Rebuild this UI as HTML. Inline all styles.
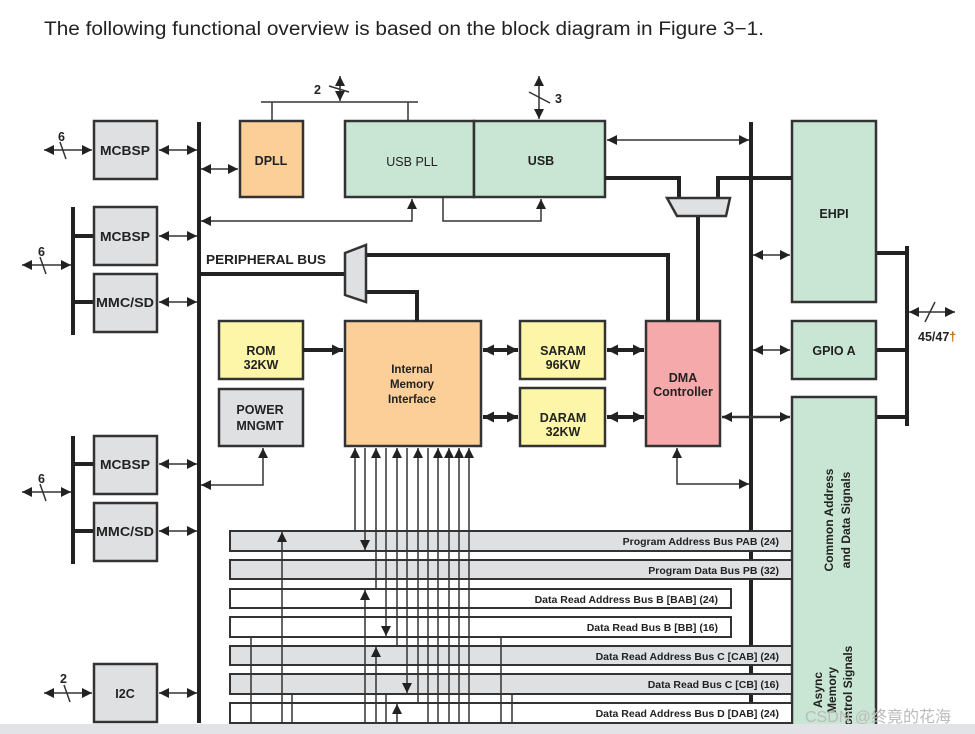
<!DOCTYPE html>
<html><head><meta charset="utf-8"><style>
html,body{margin:0;padding:0;background:#fff;}
svg{display:block;}
text{font-family:"Liberation Sans",Arial,sans-serif;font-weight:bold;fill:#222;}
</style></head><body>
<svg width="975" height="734" viewBox="0 0 975 734" xmlns="http://www.w3.org/2000/svg">
<defs>
<marker id="a" viewBox="0 0 10 10" refX="10" refY="5" markerWidth="10" markerHeight="10" markerUnits="userSpaceOnUse" orient="auto-start-reverse"><path d="M0,0 L10,5 L0,10 z" fill="#222"/></marker>
<marker id="b" viewBox="0 0 10 10" refX="10" refY="5" markerWidth="11" markerHeight="12" markerUnits="userSpaceOnUse" orient="auto-start-reverse"><path d="M0,0 L10,5 L0,10 z" fill="#222"/></marker>
</defs>
<text x="44" y="35" font-size="19" textLength="720" lengthAdjust="spacingAndGlyphs" style="font-weight:normal">The following functional overview is based on the block diagram in Figure 3−1.</text>

<g stroke="#222" fill="none">
<line x1="199" y1="122" x2="199" y2="723" stroke-width="4"/>
<line x1="751" y1="122" x2="751" y2="723" stroke-width="4"/>
<line x1="73" y1="207" x2="73" y2="335" stroke-width="4"/>
<line x1="73" y1="436" x2="73" y2="564" stroke-width="4"/>
<line x1="907" y1="246" x2="907" y2="426" stroke-width="4"/>
<line x1="73" y1="236" x2="94" y2="236" stroke-width="4"/>
<line x1="73" y1="302" x2="94" y2="302" stroke-width="4"/>
<line x1="73" y1="464" x2="94" y2="464" stroke-width="4"/>
<line x1="73" y1="531" x2="94" y2="531" stroke-width="4"/>
<line x1="876" y1="253" x2="907" y2="253" stroke-width="4"/>
<line x1="876" y1="350" x2="907" y2="350" stroke-width="4"/>
<line x1="876" y1="417" x2="907" y2="417" stroke-width="4"/>
</g>

<g stroke="#333" stroke-width="2.5">
<rect x="94" y="121" width="63" height="58" fill="#dfe0e2"/>
<rect x="94" y="207" width="63" height="58" fill="#dfe0e2"/>
<rect x="94" y="274" width="63" height="58" fill="#dfe0e2"/>
<rect x="94" y="436" width="63" height="58" fill="#dfe0e2"/>
<rect x="94" y="503" width="63" height="58" fill="#dfe0e2"/>
<rect x="94" y="664" width="63" height="58" fill="#dfe0e2"/>
<rect x="240" y="121" width="63" height="76" fill="#fccf99"/>
<rect x="345" y="121" width="129" height="76" fill="#c9e6d4"/>
<rect x="474" y="121" width="131" height="76" fill="#c9e6d4"/>
<rect x="792" y="121" width="84" height="181" fill="#c9e6d4"/>
<rect x="792" y="321" width="84" height="58" fill="#c9e6d4"/>
<rect x="792" y="397" width="84" height="345" fill="#c9e6d4"/>
<rect x="219" y="321" width="84" height="58" fill="#fdf6a8"/>
<rect x="219" y="389" width="84" height="57" fill="#dfe0e2"/>
<rect x="345" y="321" width="136" height="125" fill="#fccf99"/>
<rect x="520" y="321" width="85" height="58" fill="#fdf6a8"/>
<rect x="520" y="388" width="85" height="58" fill="#fdf6a8"/>
<rect x="646" y="321" width="74" height="125" fill="#f6a9ab"/>
</g>

<g stroke="#333" stroke-width="2">
<rect x="230" y="531" width="562" height="20" fill="#dfe0e2"/>
<rect x="230" y="560" width="562" height="19" fill="#dfe0e2"/>
<rect x="230" y="589" width="501" height="19" fill="#fff"/>
<rect x="230" y="617" width="501" height="20" fill="#fff"/>
<rect x="230" y="646" width="562" height="19" fill="#dfe0e2"/>
<rect x="230" y="674" width="562" height="20" fill="#dfe0e2"/>
<rect x="230" y="703" width="562" height="20" fill="#fff"/>
</g>

<g stroke="#333" stroke-width="1.5" fill="none">
<line x1="159" y1="150" x2="197" y2="150" marker-start="url(#a)" marker-end="url(#a)"/>
<line x1="159" y1="236" x2="197" y2="236" marker-start="url(#a)" marker-end="url(#a)"/>
<line x1="159" y1="302" x2="197" y2="302" marker-start="url(#a)" marker-end="url(#a)"/>
<line x1="159" y1="464" x2="197" y2="464" marker-start="url(#a)" marker-end="url(#a)"/>
<line x1="159" y1="531" x2="197" y2="531" marker-start="url(#a)" marker-end="url(#a)"/>
<line x1="159" y1="693" x2="197" y2="693" marker-start="url(#a)" marker-end="url(#a)"/>
<line x1="44" y1="150" x2="92" y2="150" marker-start="url(#a)" marker-end="url(#a)"/>
<line x1="22" y1="265" x2="71" y2="265" marker-start="url(#a)" marker-end="url(#a)"/>
<line x1="22" y1="492" x2="71" y2="492" marker-start="url(#a)" marker-end="url(#a)"/>
<line x1="44" y1="693" x2="92" y2="693" marker-start="url(#a)" marker-end="url(#a)"/>
<line x1="60" y1="142" x2="66" y2="159"/><line x1="40" y1="257" x2="46" y2="274"/><line x1="40" y1="484" x2="46" y2="501"/><line x1="64" y1="685" x2="70" y2="702"/>
<line x1="201" y1="169" x2="238" y2="169" marker-start="url(#a)" marker-end="url(#a)"/>
<polyline points="201,221 412,221 412,199" marker-start="url(#a)" marker-end="url(#a)"/>
<polyline points="443,197 443,221 541,221 541,199" marker-end="url(#a)"/>
<polyline points="261,102 418,102"/>
<line x1="272" y1="102" x2="272" y2="121"/><line x1="408" y1="102" x2="408" y2="121"/>
<line x1="340" y1="76" x2="340" y2="101" marker-start="url(#a)" marker-end="url(#a)"/>
<line x1="329" y1="86" x2="349" y2="92"/>
<line x1="539" y1="76" x2="539" y2="119" marker-start="url(#a)" marker-end="url(#a)"/>
<line x1="529" y1="92" x2="550" y2="103"/>
<line x1="607" y1="140" x2="749" y2="140" marker-start="url(#a)" marker-end="url(#a)"/>
<line x1="753" y1="255" x2="790" y2="255" marker-start="url(#a)" marker-end="url(#a)"/>
<line x1="753" y1="350" x2="790" y2="350" marker-start="url(#a)" marker-end="url(#a)"/>
<line x1="722" y1="417" x2="790" y2="417" stroke-width="2.5" marker-start="url(#a)" marker-end="url(#a)"/>
<line x1="909" y1="312" x2="955" y2="312" marker-start="url(#a)" marker-end="url(#a)"/>
<line x1="925" y1="322" x2="935" y2="302"/>
<polyline points="201,485 263,485 263,448" marker-start="url(#a)" marker-end="url(#a)"/>
<polyline points="677,448 677,484 749,484" marker-start="url(#a)" marker-end="url(#a)"/>
<line x1="355" y1="531" x2="355" y2="448" marker-end="url(#a)"/>
<line x1="365" y1="448" x2="365" y2="550" marker-end="url(#a)"/>
<line x1="376" y1="589" x2="376" y2="448" marker-end="url(#a)"/>
<line x1="386" y1="448" x2="386" y2="636" marker-end="url(#a)"/>
<line x1="397" y1="646" x2="397" y2="448" marker-end="url(#a)"/>
<line x1="407" y1="448" x2="407" y2="693" marker-end="url(#a)"/>
<line x1="418" y1="703" x2="418" y2="448" marker-end="url(#a)"/>
<line x1="428" y1="448" x2="428" y2="723"/>
<line x1="438" y1="723" x2="438" y2="448" marker-end="url(#a)"/>
<line x1="449" y1="723" x2="449" y2="448" marker-end="url(#a)"/>
<line x1="459" y1="723" x2="459" y2="448" marker-end="url(#a)"/>
<line x1="469" y1="723" x2="469" y2="448" marker-end="url(#a)"/>
<line x1="282" y1="723" x2="282" y2="532" marker-end="url(#a)"/>
<line x1="365" y1="723" x2="365" y2="590" marker-end="url(#a)"/>
<line x1="376" y1="723" x2="376" y2="647" marker-end="url(#a)"/>
<line x1="397" y1="723" x2="397" y2="704" marker-end="url(#a)"/>
<line x1="386" y1="694" x2="386" y2="723"/>
<line x1="251" y1="637" x2="251" y2="723"/>
<line x1="292" y1="694" x2="292" y2="723"/>
<line x1="501" y1="637" x2="501" y2="723"/>
<line x1="512" y1="694" x2="512" y2="723"/>
</g>

<g stroke="#222" stroke-width="4" fill="none">
<line x1="201" y1="274" x2="345" y2="274"/>
<polyline points="366,255 668,255 668,321"/>
<polyline points="366,292 417,292 417,321"/>
<polyline points="605,178 679,178 679,198"/>
<polyline points="718,198 718,178 792,178"/>
<line x1="698" y1="216" x2="698" y2="321"/>
<line x1="303" y1="350" x2="343" y2="350" marker-end="url(#b)"/>
<line x1="483" y1="350" x2="518" y2="350" marker-start="url(#b)" marker-end="url(#b)"/>
<line x1="483" y1="417" x2="518" y2="417" marker-start="url(#b)" marker-end="url(#b)"/>
<line x1="607" y1="350" x2="644" y2="350" marker-start="url(#b)" marker-end="url(#b)"/>
<line x1="607" y1="417" x2="644" y2="417" marker-start="url(#b)" marker-end="url(#b)"/>
</g>
<polygon points="345,253 366,245 366,302 345,295" fill="#dfe0e2" stroke="#333" stroke-width="2.5"/>
<polygon points="667,198 730,198 726,216 677,216" fill="#dfe0e2" stroke="#333" stroke-width="2.5"/>

<g font-size="12.5" text-anchor="middle">
<text x="125" y="155" textLength="50" lengthAdjust="spacingAndGlyphs">MCBSP</text>
<text x="125" y="241" textLength="50" lengthAdjust="spacingAndGlyphs">MCBSP</text>
<text x="125" y="307" textLength="58" lengthAdjust="spacingAndGlyphs">MMC/SD</text>
<text x="125" y="469" textLength="50" lengthAdjust="spacingAndGlyphs">MCBSP</text>
<text x="125" y="536" textLength="58" lengthAdjust="spacingAndGlyphs">MMC/SD</text>
<text x="125" y="698">I2C</text>
<text x="271" y="165">DPLL</text>
<text x="412" y="166" style="font-weight:normal">USB PLL</text>
<text x="541" y="165">USB</text>
<text x="834" y="218">EHPI</text>
<text x="834" y="355">GPIO A</text>
<text x="261" y="355">ROM</text>
<text x="261" y="369">32KW</text>
<text x="260" y="414">POWER</text>
<text x="260" y="430">MNGMT</text>
<text x="412" y="373" font-size="11.5">Internal</text>
<text x="412" y="388" font-size="11.5">Memory</text>
<text x="412" y="403" font-size="11.5">Interface</text>
<text x="563" y="355">SARAM</text>
<text x="563" y="369">96KW</text>
<text x="563" y="422">DARAM</text>
<text x="563" y="436">32KW</text>
<text x="683" y="382">DMA</text>
<text x="683" y="396">Controller</text>
</g>
<g font-size="12.5">
<text x="206" y="264" textLength="120" lengthAdjust="spacingAndGlyphs">PERIPHERAL BUS</text>
<text x="58" y="141">6</text><text x="38" y="256">6</text><text x="38" y="483">6</text><text x="60" y="683">2</text>
<text x="314" y="94">2</text><text x="555" y="103">3</text>
<text x="918" y="341">45/47<tspan fill="#c86a00">†</tspan></text>
</g>
<g font-size="10.5" text-anchor="end">
<text x="779" y="545">Program Address Bus PAB (24)</text>
<text x="779" y="574">Program Data Bus PB (32)</text>
<text x="718" y="603">Data Read Address Bus B [BAB] (24)</text>
<text x="718" y="631">Data Read Bus B [BB] (16)</text>
<text x="779" y="660">Data Read Address Bus C [CAB] (24)</text>
<text x="779" y="688">Data Read Bus C [CB] (16)</text>
<text x="779" y="717">Data Read Address Bus D [DAB] (24)</text>
</g>
<g font-size="12" text-anchor="middle">
<text transform="translate(833,520) rotate(-90)">Common Address</text>
<text transform="translate(850,520) rotate(-90)">and Data   Signals</text>
<text transform="translate(822,690) rotate(-90)">Async</text>
<text transform="translate(836,690) rotate(-90)">Memory</text>
<text transform="translate(852,690) rotate(-90)">Control Signals</text>
</g>
<text x="805" y="722" font-size="16" style="font-weight:normal;fill:#bbb;font-family:'Liberation Sans','Noto Sans CJK SC',sans-serif">CSDN @终竟的花海</text>
<rect x="0" y="724" width="975" height="10" fill="#e1e3e6"/>
</svg>
</body></html>
